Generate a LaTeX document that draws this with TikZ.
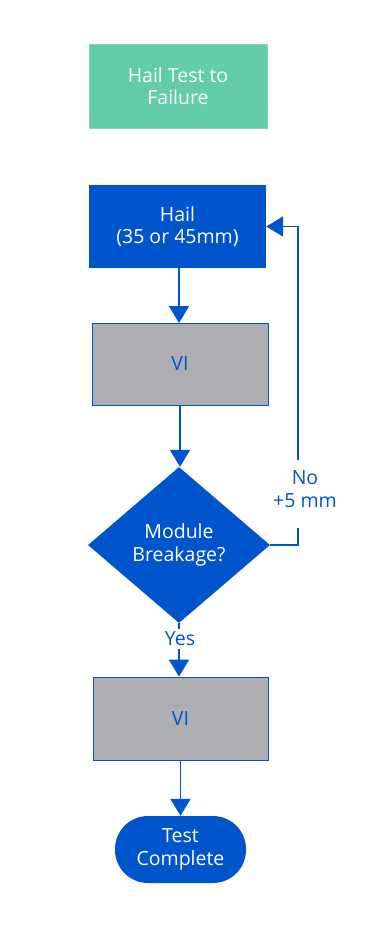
\documentclass[tikz,border=0pt]{standalone}
\usepackage{fontspec}
\setmainfont{Open Sans}
\usetikzlibrary{arrows.meta,shapes.geometric,calc}
\definecolor{bl}{RGB}{0,85,204}
\definecolor{gr}{RGB}{99,204,168}
\definecolor{gy}{RGB}{172,174,177}
\begin{document}
\begin{tikzpicture}[x=1pt,y=-1pt,
  every node/.style={font=\fontsize{19.5}{22.5}\selectfont, align=center, inner sep=0pt},
  greenbox/.style={rectangle, fill=gr, draw=gr!80!white, line width=0.6pt, text=white, minimum width=178pt, minimum height=84pt},
  bluebox/.style={rectangle, fill=bl, text=white, minimum width=177pt, minimum height=83pt},
  graybox/.style={rectangle, fill=gy, draw=bl, line width=0.8pt, text=bl, minimum width=176pt, minimum height=82pt},
  decision/.style={diamond, fill=bl, text=white, minimum width=182pt, minimum height=156pt},
  terminal/.style={rectangle, rounded corners=33pt, fill=bl, text=white, minimum width=131pt, minimum height=67pt},
  conn/.style={draw=bl, line width=1.8pt},
  arr/.style={conn, -{Triangle[width=20pt,length=17pt]}},
  lbl/.style={text=bl, fill=white}
]
\useasboundingbox (0,0) rectangle (375,947);
\node[greenbox] (start) at (178,86) {Hail Test to\\Failure};
\node[bluebox] (hail) at (177.5,226.5) {Hail\\(35 or 45mm)};
\node[graybox] (vi1) at (180,364) {VI};
\node[decision] (dia) at (179,545) {Module\\Breakage?};
\node[graybox, minimum width=175pt, minimum height=83pt] (vi2) at (180.5,718.5) {VI};
\node[terminal] (end) at (180.5,849.5) {Test\\Complete};

\coordinate (nobot) at (298,528);
\coordinate (notop) at (298,460);
\node[text=bl] (nolbl) at (305,489) {No\\+5 mm};

\draw[arr] (179,268) coordinate (h1) -- (179,323);
\draw[arr] (vi1.south) -- (vi1.south |- dia.north);
\draw[conn] (dia.east) -| (nobot);
\draw[arr] (notop) |- (hail.east);
\draw[arr] (dia.south) -- (dia.south |- vi2.north);
\node[lbl, inner ysep=3pt] (yes) at (180,639) {Yes};
\draw[arr] (vi2.south) -- (vi2.south |- end.north);
\end{tikzpicture}
\end{document}
